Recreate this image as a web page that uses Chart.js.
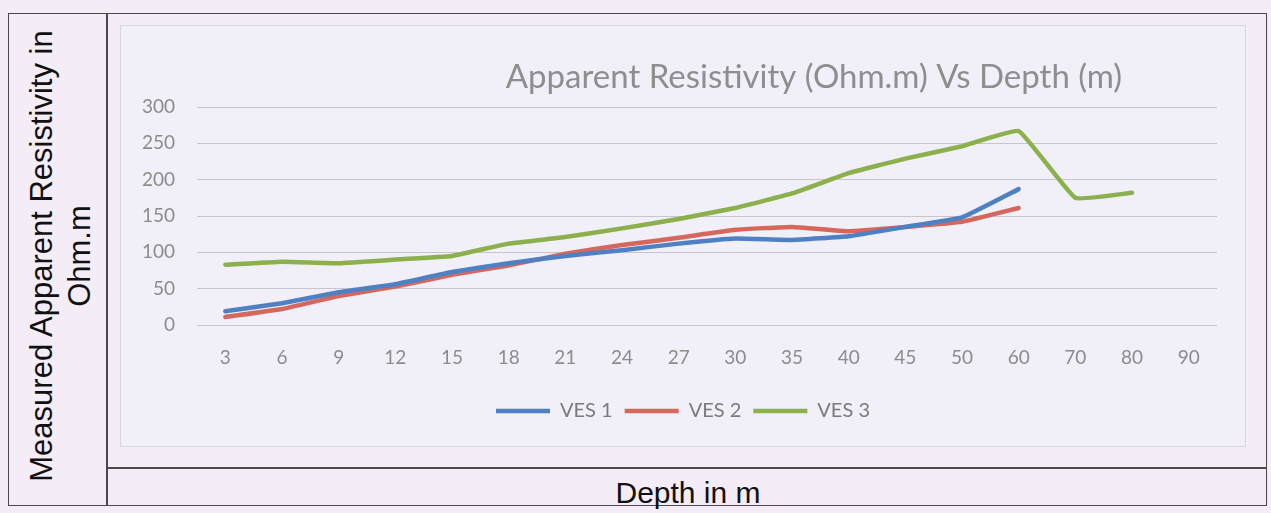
<!DOCTYPE html>
<html>
<head>
<meta charset="utf-8">
<script src="https://cdn.jsdelivr.net/npm/chart.js@4/dist/chart.umd.min.js"></script>
<style>
  html, body { margin: 0; padding: 0; }
  body { width: 1271px; height: 513px; background: #f4ecf6; position: relative; overflow: hidden; font-family: "Liberation Sans", Arial, sans-serif; }
  .frame { position: absolute; left: 8px; top: 13px; width: 1259px; height: 493px; border: 1.5px solid #4a4a4a; box-sizing: border-box; }
  .vdiv { position: absolute; left: 106px; top: 13px; width: 1.5px; height: 493px; background: #4a4a4a; }
  .hdiv { position: absolute; left: 106px; top: 467px; width: 1161px; height: 1.5px; background: #4a4a4a; }
  .panel { position: absolute; left: 120px; top: 25px; width: 1126px; height: 422px; background: #f1eff8; border: 1px solid #d9d7de; box-sizing: border-box; }
  #chart { position: absolute; left: 120px; top: 25px; }
  .ylab { position: absolute; left: 61px; top: 256px; width: 500px; transform: translate(-50%, -50%) rotate(-90deg); text-align: center; font-size: 31px; line-height: 38px; color: #111; }
  .xlab { position: absolute; left: 688px; top: 493px; transform: translate(-50%, -50%); font-size: 30px; color: #111; white-space: nowrap; }
</style>
</head>
<body>
<div class="panel"></div>
<div class="frame"></div>
<div class="vdiv"></div>
<div class="hdiv"></div>
<div class="ylab">Measured Apparent Resistivity in<br>Ohm.m</div>
<div class="xlab">Depth in m</div>
<canvas id="chart" width="1126" height="422"></canvas>
<script>
// Depth of each sounding reading (m)
const depths = ['3', '6', '9', '12', '15', '18', '21', '24', '27', '30', '35', '40', '45', '50', '60', '70', '80', '90'];

// Measured apparent resistivity (Ohm.m) for each VES station
const ves1 = [19, 30, 45, 56, 73, 85, 95, 103, 112, 119, 117, 122, 135, 148, 187, null, null, null];
const ves2 = [11, 22, 40, 53, 69, 82, 98, 110, 120, 131, 135, 129, 135, 142, 161, null, null, null];
const ves3 = [83, 87, 85, 90, 95, 112, 121, 133, 146, 161, 181, 209, 229, 246, 267, 175, 182, null];

const yTicks = [0, 50, 100, 150, 200, 250, 300];
const chartTitle = 'Apparent Resistivity (Ohm.m) Vs Depth (m)';

const tickFont = { family: 'Lato, "Open Sans", sans-serif', size: 19 };
const legendFont = { family: 'Lato, "Open Sans", sans-serif', size: 20 };

// Title drawn off-centre, to the right of the plot
const titlePlugin = {
  id: 'sideTitle',
  afterDraw(chart) {
    const ctx = chart.ctx;
    ctx.save();
    ctx.font = '33px Lato, "Open Sans", sans-serif';
    ctx.fillStyle = '#8e8e8e';
    ctx.textAlign = 'center';
    ctx.textBaseline = 'middle';
    ctx.fillText(chartTitle, 694, 52);
    ctx.restore();
  }
};

const series = (label, data, color) => ({
  label, data,
  borderColor: color,
  backgroundColor: color,
  borderWidth: 4.5,
  pointRadius: 0,
  pointHoverRadius: 0,
  tension: 0.1,
  borderCapStyle: 'round',
  borderJoinStyle: 'round',
  spanGaps: false
});

new Chart(document.getElementById('chart'), {
  type: 'line',
  data: {
    labels: depths,
    datasets: [
      series('VES 1', ves1, '#4f80c3'),
      series('VES 2', ves2, '#d6675d'),
      series('VES 3', ves3, '#8cb04b')
    ]
  },
  options: {
    responsive: false,
    animation: false,
    layout: { padding: { top: 82, left: 0, right: 0, bottom: 16 } },
    plugins: {
      title: { display: false },
      tooltip: { enabled: false },
      legend: {
        position: 'bottom',
        labels: {
          usePointStyle: true,
          pointStyle: 'line',
          pointStyleWidth: 54,
          boxHeight: 19,
          padding: 12,
          color: '#7b7b7b',
          font: legendFont
        }
      }
    },
    scales: {
      x: {
        offset: true,
        grid: { display: false, drawTicks: false },
        border: { display: false },
        ticks: { color: '#8c8c8c', font: tickFont, padding: 21, maxRotation: 0, autoSkip: false },
        afterFit(scale) { scale.height = 64; }
      },
      y: {
        min: 0,
        max: 300,
        afterBuildTicks(scale) { scale.ticks = yTicks.map(v => ({ value: v })); },
        grid: { color: '#c8c6cc', lineWidth: 1, drawTicks: false },
        border: { display: false },
        ticks: { color: '#8c8c8c', font: tickFont, padding: 22 },
        afterFit(scale) { scale.width = 77; }
      },
      // empty right-hand margin beside the plot
      yRight: {
        type: 'linear',
        position: 'right',
        grid: { display: false, drawTicks: false },
        border: { display: false },
        ticks: { display: false },
        afterFit(scale) { scale.width = 29; }
      }
    }
  },
  plugins: [titlePlugin]
});
</script>
</body>
</html>
